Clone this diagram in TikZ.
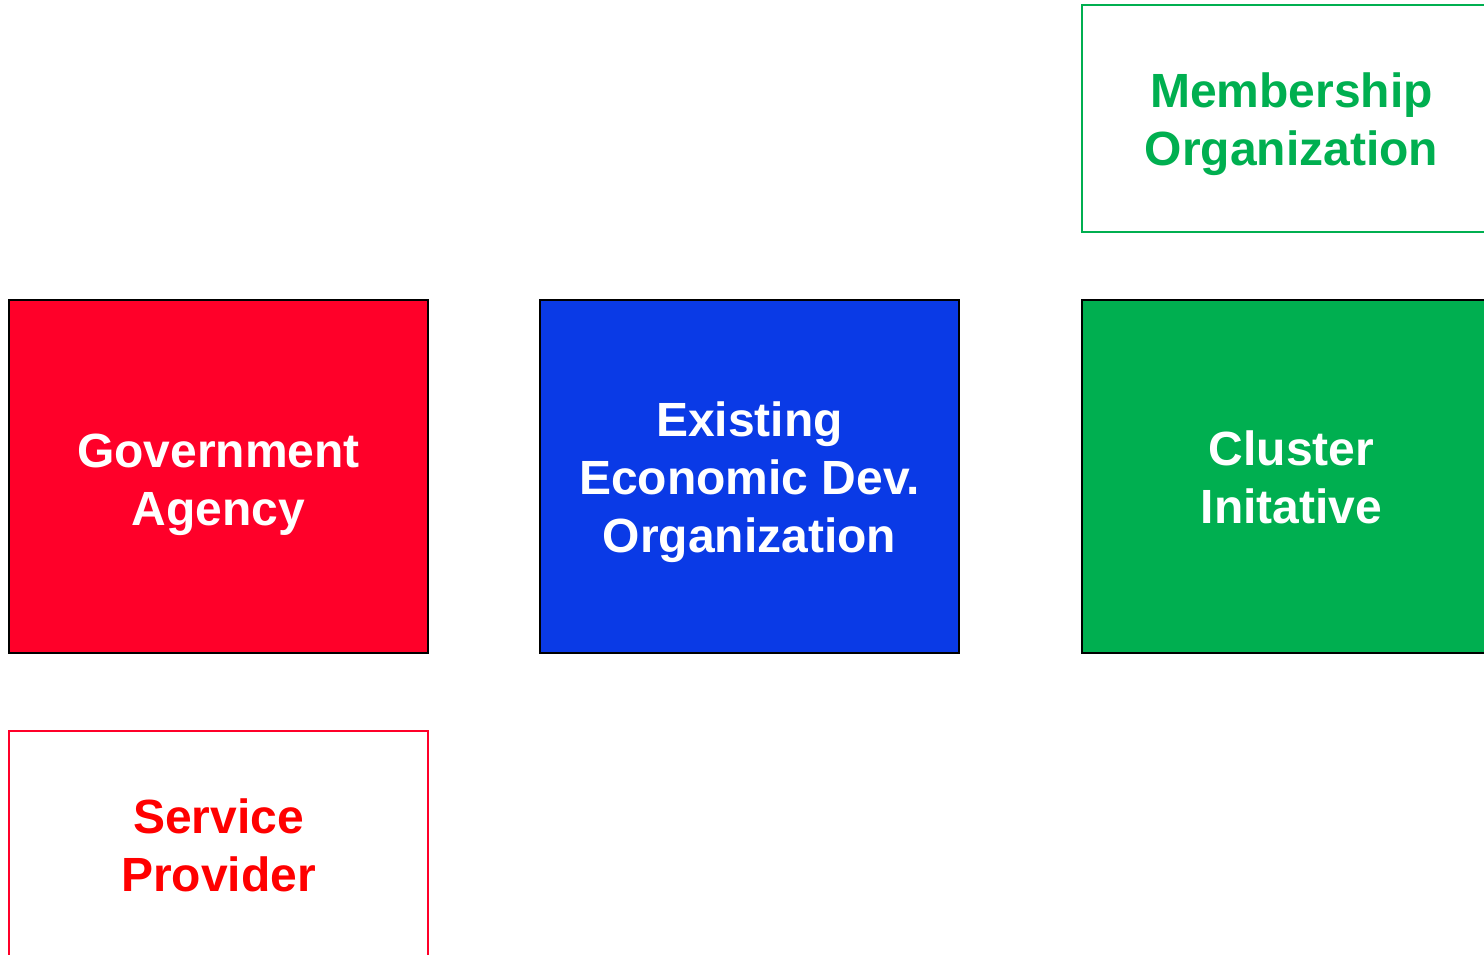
\documentclass[tikz,border=0pt]{standalone}
\usepackage{fontspec}
\setmainfont{Liberation Sans}
\usepackage{xcolor}

\definecolor{govred}{HTML}{FF0029}
\definecolor{edoblue}{HTML}{0A3AE6}
\definecolor{clugreen}{HTML}{00AF50}
\definecolor{textred}{HTML}{FF0000}

\tikzset{
  orgbox/.style={rectangle,draw=black,line width=1.5pt,minimum width=419pt,
    minimum height=353pt,inner sep=0pt,align=center,text=white,
    font=\fontsize{48}{58}\selectfont\bfseries},
  outbox/.style={rectangle,line width=1.5pt,fill=white,minimum width=419pt,
    minimum height=227pt,inner sep=0pt,align=center,
    font=\fontsize{48}{58}\selectfont\bfseries},
  label/.style={align=center,inner sep=0pt,font=\fontsize{48}{58}\selectfont\bfseries}
}

\begin{document}
\begin{tikzpicture}[x=1pt,y=-1pt]
\useasboundingbox (0,0) rectangle (1484,954);
\clip (0,0) rectangle (1484,954);
% boxes
\node[orgbox,fill=govred] (gov) at (218.5,476.5) {};
\node[orgbox,fill=edoblue] (edo) at (749.5,476.5) {};
\node[orgbox,fill=clugreen] (cluster) at (1291.5,476.5) {};
\node[outbox,draw=clugreen] (member) at (1291.5,118.5) {};
\node[outbox,draw=govred] (service) at (218.5,844.5) {};
% texts
\node[label,text=white] (govtext) at (218.5,484.5) {Government\\Agency};
\node[label,text=white] (edotext) at (749.5,482) {Existing\\Economic Dev.\\Organization};
\node[label,text=white] (clustertext) at (1291.5,477) {Cluster\\Initative};
\node[label,text=clugreen] (membertext) at (1291.5,124.5) {Membership\\Organization};
\node[label,text=textred] (servicetext) at (218.5,845) {Service\\Provider};
\end{tikzpicture}
\end{document}
